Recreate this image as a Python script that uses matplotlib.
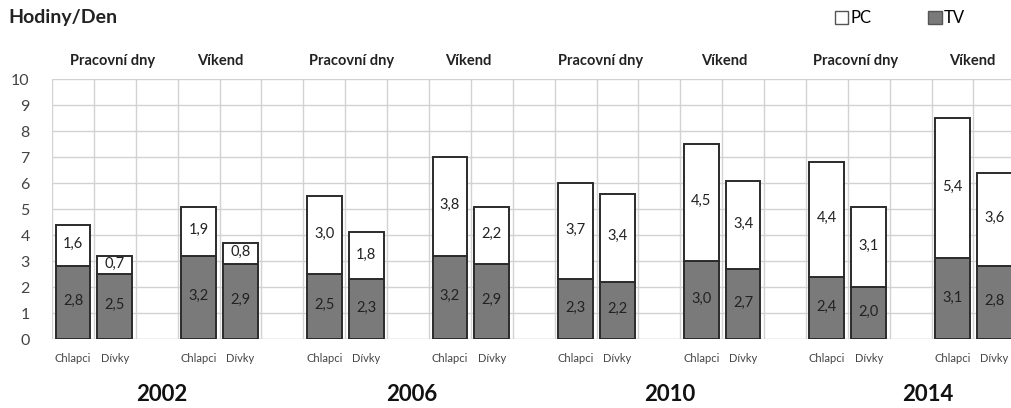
import matplotlib.pyplot as plt
from matplotlib.patches import Patch

# data
years = ["2002", "2006", "2010", "2014"]
periods = ["Pracovní dny", "Víkend"]
genders = ["Chlapci", "Dívky"]
tv = [2.8, 2.5, 3.2, 2.9,
      2.5, 2.3, 3.2, 2.9,
      2.3, 2.2, 3.0, 2.7,
      2.4, 2.0, 3.1, 2.8]
pc = [1.6, 0.7, 1.9, 0.8,
      3.0, 1.8, 3.8, 2.2,
      3.7, 3.4, 4.5, 3.4,
      4.4, 3.1, 5.4, 3.6]

plt.rcParams["font.family"] = ["Lato", "DejaVu Sans"]

# bar slots: pairs of bars with one empty slot between pairs
x = []
for i in range(8):
    x += [3 * i, 3 * i + 1]

fig = plt.figure(figsize=(10.12, 4.08), dpi=100)
ax = fig.add_axes([0.0514, 0.169, 0.9486, 0.637])

w = 0.83
ax.bar(x, tv, width=w, color="#7a7a7a", edgecolor="#2b2b2b", linewidth=1.4, zorder=3)
ax.bar(x, pc, width=w, bottom=tv, color="white", edgecolor="#2b2b2b", linewidth=1.4, zorder=3)

def fmt(v):
    return f"{v:.1f}".replace(".", ",")

for xi, t, p in zip(x, tv, pc):
    ax.text(xi, t / 2 + 0.05, fmt(t), ha="center", va="center", fontsize=10.5,
            color="#222222", zorder=4)
    ax.text(xi, t + p / 2 + 0.05, fmt(p), ha="center", va="center", fontsize=10.5,
            color="#222222", zorder=4)

ax.set_xlim(-0.5, 22.42)
ax.set_ylim(0, 10)
ax.set_yticks(range(11))
ax.set_yticklabels([str(v) for v in range(11)], fontsize=11.5, color="#444444")
ax.tick_params(axis="y", length=0, pad=16)
ax.set_xticks([])

# grid
for yv in range(0, 11):
    ax.axhline(yv, color="#d2d2d2" if yv else "#b5b5b5", linewidth=1, zorder=1)
for k in range(0, 24):
    ax.axvline(k - 0.5, color="#d2d2d2", linewidth=1, zorder=1)
for s in ax.spines.values():
    s.set_visible(False)

# labels under bars
for i, xi in enumerate(x):
    ax.text(xi, -0.75, genders[i % 2], ha="center", va="center", fontsize=8,
            color="#444444", clip_on=False)

# period labels above
period_x = [0.95, 3.51, 6.66, 9.45, 12.6, 15.54, 18.69, 21.46]
for i, px in enumerate(period_x):
    ax.text(px, 10.7, periods[i % 2], ha="center", va="center",
            fontsize=10.5, fontweight="bold", color="#222222", clip_on=False)

# year labels
year_x = [2.12, 8.09, 14.25, 20.4]
for yx, yr in zip(year_x, years):
    ax.text(yx, -2.15, yr, ha="center", va="center", fontsize=16,
            fontweight="bold", color="#111111", clip_on=False)

fig.text(0.008, 0.956, "Hodiny/Den", fontsize=14, fontweight="bold",
         color="#222222", ha="left", va="center")

handles = [Patch(facecolor="white", edgecolor="#555555", linewidth=1),
           Patch(facecolor="#7a7a7a", edgecolor="#555555", linewidth=1)]
fig.legend(handles, ["PC", "TV"], loc="center left", bbox_to_anchor=(0.81, 0.955),
           ncol=2, frameon=False, fontsize=12, handlelength=0.8,
           handleheight=0.8, handletextpad=0.15, columnspacing=3.4)

fig.savefig("out.png", dpi=100)
